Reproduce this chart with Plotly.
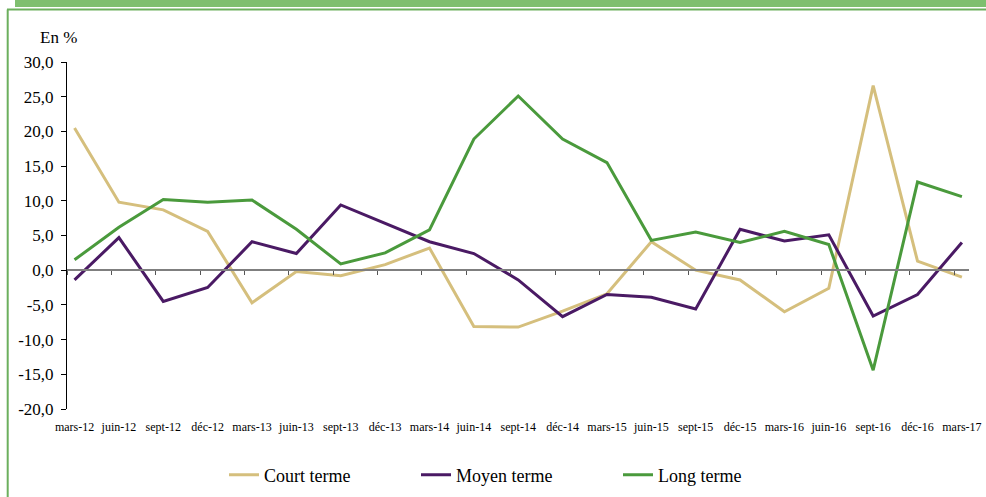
import plotly.graph_objects as go

categories = ["mars-12", "juin-12", "sept-12", "déc-12", "mars-13", "juin-13", "sept-13",
              "déc-13", "mars-14", "juin-14", "sept-14", "déc-14", "mars-15", "juin-15",
              "sept-15", "déc-15", "mars-16", "juin-16", "sept-16", "déc-16", "mars-17"]

court_terme = [20.5, 9.8, 8.7, 5.6, -4.7, -0.2, -0.8, 0.8, 3.2, -8.1, -8.2, -5.9, -3.4,
               4.1, 0.0, -1.4, -6.0, -2.6, 26.6, 1.3, -1.0]
moyen_terme = [-1.4, 4.7, -4.5, -2.5, 4.1, 2.4, 9.4, 6.8, 4.1, 2.4, -1.4, -6.7, -3.5,
               -3.9, -5.6, 5.9, 4.2, 5.1, -6.6, -3.5, 4.0]
long_terme = [1.5, 6.2, 10.2, 9.8, 10.1, 5.9, 0.9, 2.5, 5.8, 18.9, 25.1, 18.9, 15.5,
              4.3, 5.5, 4.0, 5.6, 3.7, -14.4, 12.7, 10.6]

series_names = ["Court terme", "Moyen terme", "Long terme"]
series_colors = ["#D5BF7D", "#4A1A64", "#4A9A3C"]

y_tickvals = [30, 25, 20, 15, 10, 5, 0, -5, -10, -15, -20]
y_ticktext = ["30,0", "25,0", "20,0", "15,0", "10,0", "5,0", "0,0", "-5,0", "-10,0", "-15,0", "-20,0"]

W, H = 986, 497
L, R, T, B = 67, 969, 62, 409  # plot area in pixels


def px_x(p):
    return (p - L) / (R - L)


def px_y(p):
    return (B - p) / (B - T)


idx = list(range(len(categories)))
fig = go.Figure()
legends = ["legend", "legend2", "legend3"]
for name, vals, col, lg in zip(series_names, [court_terme, moyen_terme, long_terme],
                               series_colors, legends):
    fig.add_trace(go.Scatter(x=idx, y=vals, name=name, mode="lines",
                             line=dict(color=col, width=3), legend=lg))

# helper trace for the zero axis with tick marks
fig.add_trace(go.Scatter(x=[0], y=[0], xaxis="x2", mode="lines", showlegend=False,
                         hoverinfo="skip", opacity=0))

font_family = "Liberation Serif, Times New Roman, serif"
xr = [-0.17, 20.16]

fig.update_layout(
    width=W, height=H,
    margin=dict(l=L, r=W - R, t=T, b=H - B, autoexpand=False),
    paper_bgcolor="white", plot_bgcolor="white",
    font=dict(family=font_family, color="black", size=17),
    xaxis=dict(range=xr, tickvals=idx, ticktext=categories, showgrid=False,
               zeroline=False, showline=False, ticks="", tickfont=dict(size=12),
               ticklabelstandoff=9, automargin=False),
    xaxis2=dict(range=xr, overlaying="x", anchor="free", position=0.4, side="bottom",
                tickvals=[i - 0.17 for i in idx], showticklabels=False, ticks="outside",
                ticklen=4, tickwidth=1, tickcolor="#555555", showline=True,
                linecolor="#7F7F7F", linewidth=1.5, showgrid=False, zeroline=False,
                automargin=False),
    yaxis=dict(range=[-20, 30], tickvals=y_tickvals, ticktext=y_ticktext, showgrid=False,
               zeroline=False, showline=True, linecolor="black", linewidth=1,
               ticks="outside", ticklen=5, tickcolor="black", tickfont=dict(size=17),
               ticklabelstandoff=4, automargin=False),
    showlegend=True,
)

legend_px = [224, 416, 618]
for lg, lx in zip(legends, legend_px):
    fig.update_layout({lg: dict(orientation="h", x=px_x(lx), xanchor="left",
                                y=px_y(475), yanchor="middle", font=dict(size=18),
                                bgcolor="rgba(0,0,0,0)", borderwidth=0)})

fig.add_annotation(text="En %", xref="paper", yref="paper", x=px_x(58), y=px_y(37),
                   showarrow=False, font=dict(size=17), xanchor="center", yanchor="middle")

# frame decorations
fig.add_shape(type="rect", xref="paper", yref="paper", x0=px_x(15), x1=px_x(990),
              y0=px_y(7), y1=px_y(-2), fillcolor="#7FBF6F", line=dict(width=0), layer="below")
fig.add_shape(type="line", xref="paper", yref="paper", x0=px_x(7), x1=px_x(990),
              y0=px_y(9.5), y1=px_y(9.5), line=dict(color="#6CAF5D", width=2))
fig.add_shape(type="line", xref="paper", yref="paper", x0=px_x(7.7), x1=px_x(7.7),
              y0=px_y(9.5), y1=px_y(500), line=dict(color="#6CAF5D", width=2))

fig.write_html("out.html", config={"displayModeBar": False},
               post_script="document.body.style.margin='0';")
